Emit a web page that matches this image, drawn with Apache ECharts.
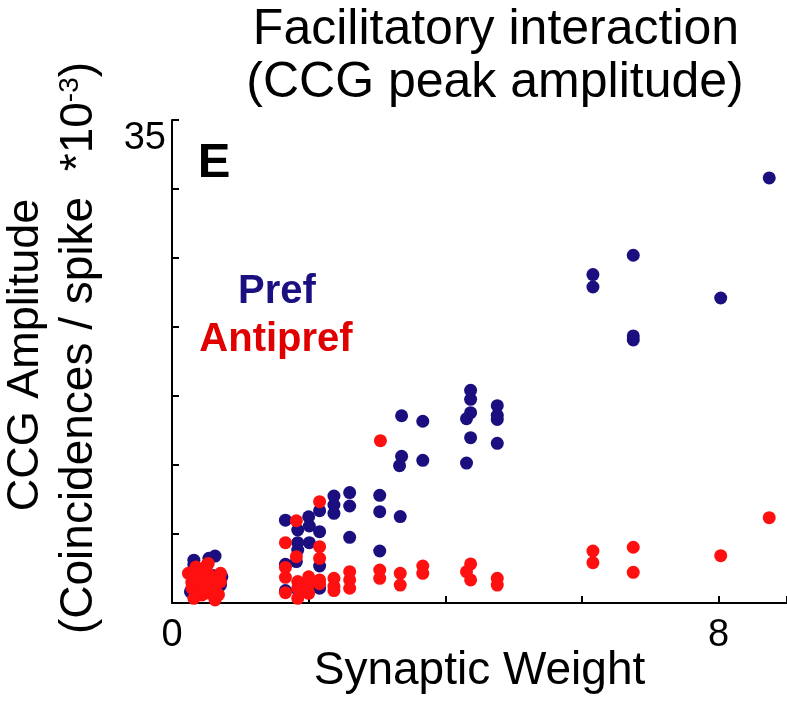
<!DOCTYPE html>
<html>
<head>
<meta charset="utf-8">
<script src="https://cdn.jsdelivr.net/npm/echarts@6.0.0/dist/echarts.min.js"></script>
<style>
  html, body { margin: 0; padding: 0; background: #fff; }
  #chart { width: 787px; height: 706px; }
</style>
</head>
<body>
<div id="chart"></div>
<script>
// Pref (blue) points
var prefX = [0.32, 0.32, 0.54, 0.63, 0.41, 0.73, 0.71, 0.27, 0.45, 0.60,
    1.66, 1.84, 2.00, 2.01, 2.16, 2.16, 2.37, 2.37, 2.37, 2.60, 2.60, 2.60,
    1.84, 1.84, 2.01, 2.16, 1.82, 1.66, 1.66, 1.84, 2.16,
    3.04, 3.04, 3.34, 3.04, 3.36, 3.67, 3.36, 3.33, 3.67,
    4.37, 4.37, 4.37, 4.31, 4.37, 4.31, 4.76, 4.76, 4.76, 4.76,
    6.16, 6.16, 6.75, 6.75, 6.75, 8.03, 8.74];
var prefY = [3.10, 2.75, 3.24, 3.40, 2.40, 1.90, 1.30, 0.82, 1.20, 2.00,
    6.00, 5.29, 6.25, 5.58, 5.17, 6.69, 7.75, 7.10, 6.50, 8.00, 7.03, 4.76,
    4.37, 3.84, 4.37, 2.68, 3.00, 2.80, 0.90, 0.95, 1.07,
    7.80, 6.62, 6.26, 3.77, 13.57, 13.17, 10.63, 9.95, 10.34,
    15.41, 14.76, 13.79, 13.36, 11.98, 10.14, 14.30, 13.60, 13.30, 11.57,
    23.80, 22.90, 25.20, 19.35, 19.06, 22.10, 30.80];

// Antipref (red) points
var antiX = [0.51, 0.29, 0.29, 0.37, 0.44, 0.56, 0.63, 0.71, 0.63, 0.32,
    0.46, 0.71, 0.39, 0.53, 0.56, 0.29, 0.50, 0.40, 0.68, 0.35, 0.24, 0.53,
    1.82, 2.16, 1.66, 2.16, 2.16, 1.82, 1.66, 1.66, 1.66, 1.84, 1.84, 1.84,
    2.00, 2.00, 2.00, 2.16, 2.16, 2.37, 2.37, 2.37, 2.60, 2.60, 2.60,
    3.05, 3.04, 3.04, 3.34, 3.34, 3.67, 3.67, 4.37, 4.31, 4.37, 4.76, 4.76,
    6.16, 6.16, 6.75, 6.75, 8.03, 8.74];
var antiY = [2.75, 1.90, 1.50, 0.94, 0.58, 1.67, 1.06, 2.15, 0.22, 0.34,
    1.43, 1.55, 2.15, 2.15, 0.70, 1.10, 1.00, 1.80, 0.60, 2.60, 2.15, 2.87,
    5.96, 7.34, 4.37, 4.08, 3.24, 3.36, 2.58, 1.86, 0.75, 1.55, 1.07, 0.34,
    1.90, 1.30, 0.70, 1.67, 1.40, 1.79, 1.20, 0.90, 2.27, 1.67, 1.07,
    11.76, 2.39, 1.79, 2.15, 1.30, 2.68, 2.15, 2.83, 2.27, 1.67, 1.79, 1.30,
    3.77, 2.92, 4.04, 2.22, 3.43, 6.18];

// only these ticks carry a label
var xLabelShown = [0, 8];
var yLabelShown = [35];

function zip(xs, ys) {
    var out = [];
    for (var i = 0; i < xs.length; i++) {
        out.push([xs[i], ys[i]]);
    }
    return out;
}

var font = 'Liberation Sans';
var myChart = echarts.init(document.getElementById('chart'));
var option = {
    animation: false,
    grid: {
        left: 172,
        right: 0,
        top: 120,
        bottom: 103,
        outerBoundsMode: 'none'
    },
    xAxis: {
        type: 'value',
        min: 0,
        max: 9,
        interval: 2,
        name: 'Synaptic Weight',
        nameLocation: 'middle',
        nameGap: 45,
        nameMoveOverlap: false,
        nameTextStyle: {
            fontFamily: font,
            fontSize: 46,
            color: '#000'
        },
        splitLine: {show: false},
        axisLine: {
            lineStyle: {color: '#000', width: 2}
        },
        axisTick: {
            inside: true,
            length: 7,
            lineStyle: {color: '#000', width: 2}
        },
        axisLabel: {
            fontFamily: font,
            fontSize: 38,
            color: '#000',
            margin: 14,
            formatter: function (v) {
                return xLabelShown.indexOf(v) >= 0 ? String(v) : '';
            }
        }
    },
    yAxis: {
        type: 'value',
        min: 0,
        max: 35,
        interval: 5,
        splitLine: {show: false},
        axisLine: {
            lineStyle: {color: '#000', width: 2}
        },
        axisTick: {
            inside: true,
            length: 7,
            lineStyle: {color: '#000', width: 2}
        },
        axisLabel: {
            fontFamily: font,
            fontSize: 38,
            color: '#000',
            margin: 6,
            verticalAlign: 'top',
            formatter: function (v) {
                return yLabelShown.indexOf(v) >= 0 ? String(v) : '';
            }
        }
    },
    graphic: [
        {   // title
            type: 'text', x: 496, y: 30,
            style: {text: 'Facilitatory interaction', fontFamily: font, fontSize: 50,
                fill: '#000', align: 'center', verticalAlign: 'middle'}
        },
        {
            type: 'text', x: 495, y: 83,
            style: {text: '(CCG peak amplitude)', fontFamily: font, fontSize: 50,
                fill: '#000', align: 'center', verticalAlign: 'middle'}
        },
        {   // y axis title, two lines
            type: 'text', x: 26, y: 355, rotation: Math.PI / 2,
            style: {text: 'CCG Amplitude', fontFamily: font, fontSize: 45,
                fill: '#000', align: 'center', verticalAlign: 'middle'}
        },
        {
            type: 'text', x: 79, y: 348, rotation: Math.PI / 2,
            style: {
                text: '(Coincidences / spike  *10{sup|-3})',
                fontFamily: font, fontSize: 46, fill: '#000',
                align: 'center', verticalAlign: 'middle',
                rich: {
                    sup: {fontFamily: font, fontSize: 28, fill: '#000', verticalAlign: 'top'}
                }
            }
        },
        {   // panel letter
            type: 'text', x: 214, y: 163,
            style: {text: 'E', fontFamily: font, fontSize: 49, fontWeight: 'bold',
                fill: '#000', align: 'center', verticalAlign: 'middle'}
        },
        {   // legend texts
            type: 'text', x: 277, y: 292,
            style: {text: 'Pref', fontFamily: font, fontSize: 40, fontWeight: 'bold',
                fill: '#1a1080', align: 'center', verticalAlign: 'middle'}
        },
        {
            type: 'text', x: 276, y: 340,
            style: {text: 'Antipref', fontFamily: font, fontSize: 40, fontWeight: 'bold',
                fill: '#e00000', align: 'center', verticalAlign: 'middle'}
        }
    ],
    series: [
        {
            name: 'Pref',
            type: 'scatter',
            data: zip(prefX, prefY),
            symbolSize: 13,
            itemStyle: {color: '#1b0f80', opacity: 1}
        },
        {
            name: 'Antipref',
            type: 'scatter',
            data: zip(antiX, antiY),
            symbolSize: 13,
            itemStyle: {color: '#ff1010', opacity: 1}
        }
    ]
};
myChart.setOption(option);
</script>
</body>
</html>
